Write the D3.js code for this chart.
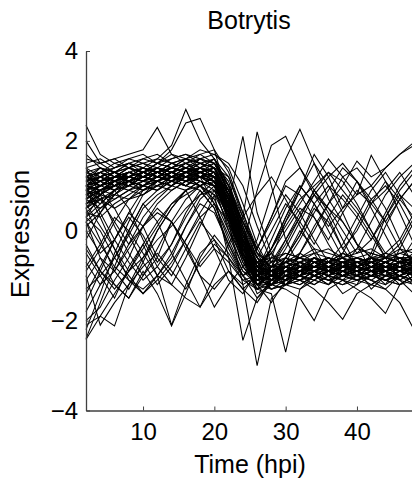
<!DOCTYPE html>
<html>
<head>
<meta charset="utf-8">
<script src="https://cdn.jsdelivr.net/npm/d3@7"></script>
<style>
  html, body { margin: 0; padding: 0; background: #fff; }
  svg { display: block; }
  text { font-family: "Liberation Sans", Arial, Helvetica, sans-serif; fill: #000; }
</style>
</head>
<body>
<svg id="chart" width="412" height="487"></svg>
<script>
// Time points (hours post inoculation)
const times = [2,4,6,8,10,12,14,16,18,20,22,24,26,28,30,32,34,36,38,40,42,44,46,48];
const xTicks = [10, 20, 30, 40];
const yTicks = [-4, -2, 0, 2, 4];
const title = "Botrytis";
const xLabel = "Time (hpi)";
const yLabel = "Expression";

// Expression profiles (one array per gene)
const groupA = [
  [1.0,1.1,1.2,1.2,1.3,1.4,1.3,1.4,1.5,1.3,0.6,-0.3,-1.0,-1.1,-0.9,-0.8,-0.9,-0.7,-0.8,-0.9,-0.7,-0.8,-0.8,-0.9],
  [0.7,0.9,0.8,1.0,1.1,1.1,1.2,1.2,1.3,1.4,0.8,0.0,-0.7,-1.2,-1.0,-1.0,-0.8,-0.9,-0.7,-0.7,-0.8,-0.6,-0.7,-0.8],
  [1.2,1.0,1.1,1.3,1.2,1.3,1.1,1.3,1.4,1.6,1.0,0.2,-0.6,-1.1,-1.2,-0.9,-1.0,-0.8,-0.9,-0.8,-0.9,-0.9,-0.7,-0.7],
  [0.5,0.8,1.0,0.9,1.1,1.0,1.2,1.1,1.2,1.2,0.5,-0.5,-1.1,-1.0,-0.8,-0.9,-0.7,-0.6,-0.8,-0.7,-0.6,-0.7,-0.9,-0.6],
  [0.9,1.2,1.3,1.1,1.0,1.2,1.4,1.5,1.3,1.2,0.3,-0.6,-1.2,-1.3,-1.1,-1.0,-1.1,-0.9,-1.0,-1.0,-0.8,-0.9,-1.0,-0.8],
  [1.3,1.4,1.2,1.2,1.4,1.3,1.5,1.4,1.6,1.5,0.9,-0.1,-0.9,-1.0,-1.1,-0.8,-0.8,-0.9,-0.8,-0.6,-0.7,-0.8,-0.7,-0.6],
  [0.6,0.7,0.9,1.1,1.0,1.1,1.0,1.2,1.1,1.0,0.4,-0.3,-0.8,-0.9,-0.7,-0.8,-0.6,-0.8,-0.7,-0.8,-0.9,-0.7,-0.8,-0.7],
  [1.1,1.3,1.4,1.5,1.3,1.2,1.3,1.2,1.4,1.3,0.7,-0.2,-1.1,-1.2,-1.0,-1.1,-0.9,-1.0,-0.9,-1.0,-1.1,-0.9,-0.8,-1.0],
  [0.8,1.0,0.9,1.2,1.3,1.5,1.4,1.6,1.5,1.4,1.2,0.3,-0.5,-1.0,-1.2,-1.1,-0.9,-0.8,-0.9,-0.7,-0.8,-0.8,-0.9,-0.8],
  [1.4,1.2,1.0,1.1,1.2,1.1,1.3,1.1,1.2,1.1,0.2,-0.7,-1.3,-1.1,-0.9,-1.0,-0.8,-0.7,-0.6,-0.8,-0.7,-0.6,-0.6,-0.7],
  [0.3,0.6,0.9,1.0,1.2,1.3,1.2,1.3,1.4,1.5,1.1,0.1,-0.8,-1.0,-0.9,-0.7,-0.8,-0.8,-1.0,-0.9,-0.8,-0.7,-0.8,-0.9],
  [1.0,0.9,1.0,1.1,0.9,1.0,1.1,1.0,1.2,1.2,0.6,-0.4,-0.9,-0.8,-0.8,-0.6,-0.7,-0.6,-0.7,-0.6,-0.5,-0.6,-0.7,-0.5],
  [1.6,1.5,1.3,1.4,1.5,1.4,1.6,1.7,1.5,1.6,1.0,0.0,-1.0,-1.3,-1.2,-1.1,-1.0,-1.1,-1.0,-0.9,-1.0,-1.1,-1.0,-0.9],
  [0.7,1.0,1.2,1.3,1.2,1.4,1.3,1.5,1.7,1.8,1.3,0.4,-0.4,-0.9,-1.1,-1.0,-0.9,-1.0,-0.8,-0.8,-0.9,-1.0,-0.8,-0.9],
  [0.9,0.8,1.1,1.0,1.3,1.2,1.1,1.3,1.2,1.0,0.0,-0.8,-1.2,-1.2,-1.0,-0.9,-1.0,-1.1,-0.9,-1.0,-0.9,-0.8,-1.0,-1.1],
  [1.2,1.3,1.1,1.0,1.2,1.4,1.2,1.3,1.5,1.4,0.8,-0.1,-0.7,-0.8,-0.9,-0.7,-0.6,-0.7,-0.5,-0.7,-0.6,-0.7,-0.5,-0.6],
  [0.4,0.7,0.8,1.1,1.0,0.9,1.2,1.1,1.0,1.2,0.7,-0.2,-1.0,-1.1,-1.2,-0.9,-0.8,-0.9,-1.0,-0.8,-0.9,-0.9,-0.8,-1.0],
  [1.0,1.2,1.0,1.3,1.4,1.3,1.5,1.4,1.3,1.5,0.9,0.1,-0.8,-1.0,-0.8,-1.0,-0.7,-0.8,-0.8,-0.9,-0.7,-0.8,-0.9,-0.7],
  [0.6,0.9,1.1,1.2,1.1,1.2,1.4,1.3,1.4,1.3,0.5,-0.6,-1.4,-1.2,-1.1,-0.9,-1.0,-0.8,-0.9,-0.9,-1.0,-0.8,-0.9,-0.8],
  [1.1,1.0,1.2,1.2,1.1,1.3,1.2,1.4,1.3,1.2,0.6,-0.2,-0.6,-0.9,-0.7,-0.8,-0.9,-0.7,-0.7,-0.6,-0.8,-0.7,-0.6,-0.8]
];
const groupB = [
  [-2.4,-1.6,-0.8,0.0,0.6,0.9,1.1,1.2,1.3,1.1,0.4,-0.5,-1.0,-0.9,-0.8,-0.9,-0.7,-0.8,-0.7,-0.6,-0.7,-0.8,-0.7,-0.6],
  [-2.2,-1.4,-0.5,0.2,0.8,1.0,1.2,1.1,1.4,1.2,0.6,-0.3,-0.9,-1.1,-1.0,-0.8,-0.9,-0.7,-0.8,-0.9,-0.8,-0.7,-0.8,-0.9],
  [-2.0,-1.7,-1.1,-0.6,0.1,0.6,0.9,1.1,1.2,1.3,0.8,0.0,-0.8,-1.0,-0.9,-1.0,-0.8,-0.9,-0.8,-0.7,-0.9,-0.8,-0.8,-0.7],
  [-1.8,-1.2,-0.9,-0.3,0.3,0.7,1.0,0.9,1.1,1.0,0.5,-0.4,-1.1,-1.2,-0.9,-0.9,-1.0,-0.9,-0.8,-0.8,-0.7,-0.9,-0.8,-0.8],
  [-1.6,-0.9,-0.2,0.4,0.9,1.1,1.3,1.2,1.2,1.1,0.3,-0.6,-1.0,-0.8,-0.7,-0.8,-0.8,-0.6,-0.7,-0.7,-0.6,-0.6,-0.7,-0.7],
  [-1.3,-1.0,-0.6,-0.1,0.5,0.8,1.0,1.2,1.0,1.2,0.7,-0.2,-0.9,-0.9,-1.0,-0.7,-0.8,-0.8,-0.9,-0.7,-0.7,-0.8,-0.9,-0.8],
  [-0.9,-0.4,0.2,0.7,0.8,1.1,1.0,1.3,1.1,1.0,0.4,-0.5,-1.2,-1.0,-1.1,-1.0,-0.9,-1.0,-0.8,-0.9,-0.8,-1.0,-0.9,-1.0],
  [-2.1,-1.9,-1.4,-0.9,-0.3,0.2,0.6,0.8,1.0,1.1,0.6,-0.1,-0.7,-1.0,-0.8,-0.9,-0.6,-0.7,-0.8,-0.7,-0.8,-0.6,-0.7,-0.7]
];
const groupC = [
  [-0.5,-1.0,-1.5,-0.8,-0.3,-1.0,-2.1,-1.2,-0.5,-0.2,-0.6,-1.1,-1.3,-0.8,-0.2,0.4,0.8,0.5,0.2,-0.3,-0.6,-0.9,-1.2,-1.0],
  [0.2,-0.6,-1.2,-1.5,-1.0,-0.4,0.2,-0.3,-1.0,-1.7,-1.2,-0.8,-0.4,0.3,1.1,1.4,0.9,0.4,-0.2,-0.8,-1.3,-1.0,-0.4,0.2],
  [-1.0,-2.1,-1.6,-1.2,-0.8,-0.5,-0.9,-1.3,-0.7,-0.3,-0.6,-1.0,-0.8,-0.4,0.2,0.7,1.0,1.3,1.1,0.6,0.0,-0.6,-1.1,-1.4],
  [0.9,0.3,-0.4,-1.1,-1.4,-1.0,-0.5,0.1,0.6,0.4,-0.3,-0.9,-1.2,-1.6,-1.1,-0.5,0.0,0.6,1.2,1.4,1.0,0.5,-0.2,-0.8],
  [-0.2,0.4,0.9,0.5,-0.2,-0.8,-1.2,-0.6,0.1,0.8,0.5,-0.2,-0.9,-0.4,0.3,0.9,1.5,1.0,0.4,-0.3,-0.9,-1.2,-0.7,-0.2],
  [0.5,-0.2,-0.9,-1.3,-0.7,0.0,0.5,0.9,0.3,-0.4,-1.1,-1.4,-0.9,-0.2,0.5,1.0,0.6,0.0,-0.6,-1.0,-0.5,0.3,0.9,1.3],
  [-0.7,-1.2,-0.6,0.0,0.6,0.2,-0.5,-1.1,-1.7,-1.0,-0.3,0.3,0.8,1.2,0.7,0.1,-0.5,-1.0,-1.4,-1.2,-0.6,0.1,0.7,1.1],
  [1.4,0.8,0.1,-0.5,-1.0,-0.6,0.2,0.7,1.0,0.6,-0.1,-0.8,-1.2,-0.9,-0.4,0.2,0.8,1.2,1.5,1.1,0.5,-0.1,-0.7,-1.2],
  [0.0,-0.5,-0.2,0.4,0.1,-0.6,-1.0,-0.4,0.2,-0.2,-0.9,-1.3,-1.0,-0.4,0.1,0.6,1.1,1.6,1.2,0.8,1.0,1.4,1.7,1.9],
  [-1.4,-0.8,-0.2,0.3,-0.1,-0.7,-0.3,0.4,0.9,0.5,-0.4,-1.0,-1.5,-1.1,-0.6,-0.1,0.5,0.2,-0.4,0.0,0.6,1.1,0.7,0.3]
];
const groupD = [
  [1.0,1.2,1.3,1.5,1.4,1.6,1.9,2.7,2.0,1.6,0.8,-0.3,-1.1,-0.9,-0.7,-0.9,-0.6,-0.8,-0.7,-0.9,-0.8,-0.7,-0.6,-0.8],
  [2.35,1.7,1.5,1.6,1.7,1.5,1.8,2.4,2.5,1.8,0.7,-0.4,-1.0,-1.2,-0.8,-0.7,-0.9,-0.8,-1.0,-0.8,-0.7,-0.9,-0.8,-0.7],
  [2.0,1.5,1.6,1.7,1.8,2.3,1.7,1.5,1.6,1.4,0.5,-0.5,-1.2,-1.0,-1.1,-0.8,-0.9,-1.0,-0.8,-0.9,-1.0,-0.8,-0.9,-0.8],
  [1.2,1.4,1.3,1.2,1.4,1.3,1.5,1.6,1.4,1.2,0.6,2.1,0.4,-0.5,-1.0,-1.1,-0.9,-0.8,-1.0,-0.9,-0.8,-0.9,-1.1,-0.9],
  [0.9,1.1,1.2,1.4,1.3,1.5,1.4,1.3,1.6,1.5,1.0,0.3,2.2,1.0,-0.2,-0.8,-1.0,-0.9,-0.7,-0.8,-0.9,-0.7,-0.8,-0.9],
  [1.1,1.0,1.2,1.3,1.2,1.1,1.3,1.4,1.3,1.2,0.4,-0.6,-0.2,0.8,1.6,2.26,1.5,0.7,0.2,-0.3,-0.6,-0.8,-0.7,-0.9],
  [0.8,1.0,1.1,1.0,1.2,1.3,1.2,1.4,1.2,1.3,0.6,-0.3,0.9,1.9,2.1,1.4,0.8,0.3,-0.4,-0.8,-1.0,-0.9,-0.8,-1.0],
  [1.3,1.1,1.0,1.2,1.1,1.3,1.2,1.1,1.3,1.4,0.7,-0.4,-1.0,-0.6,0.2,0.9,1.7,1.2,0.5,0.8,1.68,1.1,0.4,-0.3],
  [0.7,0.9,1.0,1.1,1.3,1.2,1.1,1.3,1.4,1.2,0.5,-0.5,-1.1,-1.2,-0.9,-0.5,0.1,0.6,1.0,1.55,1.2,1.4,1.7,1.97],
  [1.0,1.1,0.9,1.2,1.1,1.3,1.2,1.0,1.3,1.1,0.2,-1.2,-3.0,-1.5,-1.2,-1.0,-1.1,-0.9,-1.0,-1.1,-0.9,-1.0,-1.0,-1.1],
  [0.6,0.8,1.0,1.1,1.0,1.2,1.1,1.3,1.2,1.0,0.3,-0.6,-1.3,-1.4,-2.7,-1.3,-1.0,-1.2,-0.9,-1.0,-1.2,-1.0,-0.9,-1.0],
  [1.1,1.2,1.1,1.3,1.2,1.4,1.3,1.2,1.0,0.8,-0.6,-2.44,-1.5,-1.2,-1.3,-1.5,-2.0,-1.3,-1.1,-1.2,-1.0,-1.1,-1.2,-1.0],
  [0.9,1.0,1.2,1.1,1.3,1.2,1.4,1.3,1.2,1.3,0.5,-0.4,-1.1,-1.2,-1.0,-1.1,-1.3,-1.6,-1.97,-1.4,-1.2,-1.3,-1.6,-2.2],
  [-2.42,-1.9,-2.12,-1.2,-0.6,-0.2,0.1,0.5,0.8,0.9,0.3,-0.5,-1.0,-1.1,-0.8,-0.9,-0.8,-0.7,-0.9,-0.8,-0.6,-0.7,-0.8,-0.7],
  [-0.3,-0.9,-1.2,-1.5,-0.9,-1.4,-2.12,-1.4,-0.6,-0.1,-0.5,-1.0,-0.7,-0.5,-0.8,-1.0,-0.6,-0.9,-1.1,-0.8,-0.6,-0.9,-1.0,-0.8],
  [0.2,-0.3,-0.8,-1.1,-1.3,-1.0,-1.2,-1.5,-1.7,-1.2,-0.9,-1.3,-1.6,-1.1,-0.9,-0.7,-1.0,-1.2,-0.8,-0.9,-1.1,-1.3,-1.0,-0.8],
  [1.2,1.3,1.2,1.1,1.0,1.2,1.3,1.2,1.4,1.2,0.6,-0.3,-1.0,-1.1,-0.9,-1.0,-1.2,-1.0,-1.1,-1.3,-1.5,-1.84,-1.2,-1.0]
];
const groupE = [
  [1.1,1.2,1.3,1.2,1.4,1.3,1.2,1.4,1.3,1.2,0.5,-0.4,-0.9,-0.5,0.0,0.5,0.3,-0.2,0.4,0.9,0.6,0.2,0.7,1.1],
  [0.8,1.0,1.1,1.2,1.1,1.2,1.3,1.2,1.4,1.3,0.8,0.0,-0.6,-1.0,-0.6,-0.1,0.6,1.0,0.7,0.3,-0.2,0.3,0.8,0.5],
  [1.0,0.9,1.1,1.3,1.2,1.3,1.4,1.3,1.2,1.4,0.9,0.2,-0.4,0.2,0.8,0.4,-0.2,-0.7,-0.3,0.3,0.9,1.3,0.8,0.2],
  [0.6,0.8,1.0,1.1,1.2,1.1,1.3,1.2,1.3,1.1,0.4,-0.5,-1.0,-0.7,-0.2,0.3,0.9,1.3,0.9,0.5,0.0,-0.5,-0.2,0.4]
];
const groupF = [
  [0.2,0.5,0.7,0.9,0.8,1.0,0.9,1.1,1.0,0.7,0.0,-0.6,-0.9,-0.6,-0.5,-0.6,-0.4,-0.5,-0.6,-0.4,-0.5,-0.6,-0.4,-0.5],
  [1.5,1.6,1.4,1.5,1.6,1.7,1.5,1.6,1.8,1.7,1.4,0.6,-0.3,-0.9,-1.2,-1.3,-1.1,-1.2,-1.0,-1.1,-1.2,-1.0,-1.1,-1.2],
  [0.9,1.1,1.3,1.4,1.5,1.6,1.5,1.4,1.2,0.6,-0.2,-0.9,-1.1,-1.0,-1.0,-0.9,-1.0,-0.9,-0.8,-0.9,-1.0,-0.9,-0.8,-0.9],
  [1.2,1.1,1.3,1.2,1.3,1.5,1.6,1.7,1.6,1.7,1.5,1.0,0.1,-0.7,-1.0,-0.9,-0.8,-0.7,-0.8,-0.8,-0.7,-0.8,-0.9,-0.8],
  [0.4,0.3,0.6,0.8,1.0,0.9,1.1,1.3,1.2,1.1,0.6,-0.2,-0.8,-0.7,-0.6,-0.7,-0.5,-0.6,-0.7,-0.8,-0.6,-0.5,-0.6,-0.7],
  [1.7,1.4,1.2,1.3,1.2,1.4,1.3,1.5,1.4,1.3,0.7,-0.3,-1.0,-0.9,-0.9,-1.0,-0.8,-0.9,-1.0,-0.8,-0.9,-0.8,-0.9,-1.0],
  [0.8,0.6,0.9,1.0,1.2,1.1,1.3,1.2,1.1,0.9,0.1,-0.7,-1.1,-1.0,-0.7,-0.6,-0.7,-0.8,-0.6,-0.7,-0.8,-0.8,-0.6,-0.6],
  [1.0,1.3,1.5,1.4,1.2,1.3,1.4,1.6,1.7,1.5,0.9,0.0,-0.8,-1.1,-0.9,-0.8,-1.0,-0.8,-0.9,-1.0,-0.8,-0.7,-0.9,-0.9],
  [0.1,0.4,0.8,1.1,1.3,1.2,1.4,1.3,1.5,1.4,0.8,-0.1,-0.9,-1.2,-1.0,-1.1,-1.2,-1.0,-1.1,-1.0,-1.1,-1.2,-1.0,-1.1],
  [1.3,1.2,1.4,1.6,1.5,1.3,1.4,1.3,1.3,1.2,0.4,-0.5,-1.2,-1.1,-0.8,-0.7,-0.8,-0.6,-0.7,-0.6,-0.7,-0.8,-0.7,-0.6],
  [0.5,0.9,1.1,1.0,0.9,1.1,1.0,1.2,1.3,1.2,0.9,0.2,-0.5,-0.7,-0.5,-0.6,-0.5,-0.4,-0.6,-0.5,-0.4,-0.6,-0.5,-0.4],
  [1.1,1.4,1.3,1.5,1.4,1.2,1.1,1.0,0.9,0.5,-0.3,-1.0,-1.3,-1.2,-1.1,-1.2,-1.0,-1.1,-1.2,-1.1,-1.0,-1.1,-1.2,-1.1],
  [0.7,0.5,0.8,0.7,0.9,1.1,1.2,1.1,1.3,1.4,1.0,0.1,-0.6,-0.8,-0.7,-0.5,-0.7,-0.7,-0.5,-0.6,-0.7,-0.5,-0.6,-0.6],
  [1.0,0.8,0.7,0.9,1.0,1.1,1.3,1.4,1.3,1.1,0.5,-0.5,-1.0,-1.3,-1.2,-1.0,-0.9,-1.1,-1.2,-1.0,-0.9,-1.1,-1.0,-1.2],
  [1.4,1.5,1.6,1.4,1.3,1.5,1.4,1.3,1.4,1.6,1.2,0.4,-0.5,-0.8,-0.8,-0.9,-0.7,-0.9,-0.7,-0.8,-0.9,-0.9,-0.7,-0.8],
  [0.3,0.8,1.2,1.4,1.3,1.4,1.2,1.3,1.2,1.0,0.3,-0.4,-0.9,-1.0,-1.1,-1.2,-1.0,-0.9,-0.9,-1.1,-1.0,-1.0,-1.1,-0.9],
  [0.9,0.7,0.5,0.7,1.0,1.2,1.1,1.0,1.2,1.3,0.7,-0.3,-1.2,-1.0,-0.9,-0.8,-0.9,-1.0,-0.7,-0.9,-0.8,-0.9,-0.8,-1.0],
  [1.2,1.0,1.2,1.4,1.6,1.5,1.7,1.6,1.5,1.4,0.6,-0.2,-0.7,-0.6,-0.7,-0.8,-0.6,-0.7,-0.8,-0.7,-0.6,-0.7,-0.8,-0.7]
];
const groupG = [
  [0.6,0.1,-0.4,-0.9,-0.6,0.0,0.5,0.9,1.1,1.0,0.4,-0.4,-1.0,-0.9,-0.8,-0.9,-0.7,-0.8,-0.9,-0.7,-0.8,-0.9,-0.8,-0.7],
  [1.0,0.4,-0.2,-0.7,-1.1,-0.8,-0.3,0.3,0.8,1.1,0.7,-0.2,-0.9,-1.0,-0.9,-0.8,-0.9,-0.9,-0.8,-0.8,-0.9,-0.7,-0.8,-0.9],
  [-0.4,-0.9,-1.3,-0.9,-0.4,0.1,0.6,0.9,1.0,0.8,0.2,-0.6,-1.1,-1.0,-1.1,-0.9,-1.0,-0.9,-1.0,-0.9,-1.0,-1.1,-0.9,-1.0],
  [0.8,0.9,0.5,-0.1,-0.7,-1.2,-0.8,-0.2,0.4,0.9,0.6,-0.2,-0.8,-0.9,-0.7,-0.6,-0.8,-0.7,-0.6,-0.8,-0.7,-0.6,-0.7,-0.8],
  [-0.8,-0.3,0.3,0.0,-0.5,-1.0,-0.6,0.1,0.7,1.0,0.5,-0.3,-1.0,-1.1,-0.9,-1.0,-0.8,-0.9,-1.0,-0.8,-0.9,-0.8,-1.0,-0.9],
  [0.3,0.0,-0.6,-1.0,-1.4,-1.1,-0.7,-0.2,0.3,0.6,0.2,-0.5,-1.0,-0.9,-0.8,-0.7,-0.9,-0.8,-0.7,-0.9,-0.8,-0.7,-0.9,-0.8],
  [-1.1,-0.6,-0.9,-0.4,0.1,0.4,0.2,-0.3,-0.8,-0.4,-0.7,-1.1,-1.0,-0.8,-0.6,-0.8,-0.9,-0.7,-0.8,-1.0,-0.9,-0.7,-0.8,-0.9],
  [0.5,0.7,0.2,-0.3,0.1,0.5,0.2,-0.4,-1.0,-1.3,-0.9,-1.2,-1.0,-0.9,-1.1,-0.8,-0.9,-1.0,-0.8,-0.9,-1.0,-0.8,-0.9,-1.0]
];
const groupH = [
  [1.0,1.1,1.2,1.3,1.2,1.3,1.4,1.3,1.2,1.1,0.3,-0.6,-1.1,-0.8,-0.3,0.3,0.9,0.5,0.0,-0.5,-0.2,0.4,1.0,1.4],
  [0.9,1.0,1.2,1.1,1.3,1.2,1.4,1.5,1.3,1.2,0.6,-0.3,-0.8,-0.4,0.3,1.0,0.6,0.1,0.5,1.1,0.7,0.2,-0.4,-0.7],
  [1.2,1.3,1.1,1.2,1.3,1.2,1.3,1.2,1.4,1.3,0.8,0.2,-0.4,0.3,1.0,0.8,0.3,-0.3,-0.8,-0.4,0.2,0.8,1.2,1.5],
  [0.7,0.9,1.0,1.2,1.1,1.3,1.2,1.3,1.2,1.1,0.4,-0.5,-1.0,-1.1,-0.7,-0.2,0.4,0.9,1.4,1.1,0.6,0.9,1.3,0.8],
  [1.1,1.2,1.3,1.1,1.2,1.4,1.3,1.2,1.3,1.2,0.5,-0.4,-0.9,-1.0,-0.6,0.0,-0.4,-0.9,-0.5,0.1,0.7,1.0,0.6,0.0],
  [0.8,0.9,1.1,1.2,1.3,1.2,1.1,1.3,1.4,1.3,0.7,-0.1,-0.6,0.0,0.6,0.2,-0.3,0.3,0.8,0.4,-0.1,-0.6,-0.3,0.3]
];

const series = [].concat(groupA, groupB, groupC, groupD, groupE, groupF, groupG, groupH);

const svg = d3.select("#chart");
const x = d3.scaleLinear().domain([2, 48]).range([86, 414]);
const y = d3.scaleLinear().domain([-4, 4]).range([410.5, 51]);

const line = d3.line()
  .x((d, i) => x(times[i]))
  .y(d => y(d));

svg.append("g")
  .selectAll("path")
  .data(series)
  .join("path")
  .attr("d", line)
  .attr("fill", "none")
  .attr("stroke", "#000")
  .attr("stroke-width", 1.05)
  .attr("stroke-linejoin", "miter");

const axisColor = "#404040";

const gx = svg.append("g")
  .attr("transform", `translate(0,${y(-4)})`)
  .call(d3.axisBottom(x).tickValues(xTicks).tickSizeInner(-4).tickSizeOuter(0).tickPadding(12));
const gy = svg.append("g")
  .attr("transform", `translate(${x(2)},0)`)
  .call(d3.axisLeft(y).tickValues(yTicks).tickSizeInner(-4).tickSizeOuter(0).tickPadding(8));

[gx, gy].forEach(g => {
  g.select(".domain").attr("stroke", axisColor).attr("stroke-width", 1.3);
  g.selectAll(".tick line").attr("stroke", axisColor).attr("stroke-width", 1);
  g.selectAll(".tick text")
    .attr("fill", "#000")
    .style("font-family", '"Liberation Sans", Arial, sans-serif')
    .style("font-size", "24px");
});

svg.append("text")
  .attr("x", 249).attr("y", 29)
  .attr("text-anchor", "middle")
  .style("font-size", "25px")
  .text(title);

svg.append("text")
  .attr("x", 250).attr("y", 473)
  .attr("text-anchor", "middle")
  .style("font-size", "25px")
  .text(xLabel);

svg.append("text")
  .attr("transform", `translate(29,234) rotate(-90)`)
  .attr("text-anchor", "middle")
  .style("font-size", "26px")
  .text(yLabel);
</script>
</body>
</html>
